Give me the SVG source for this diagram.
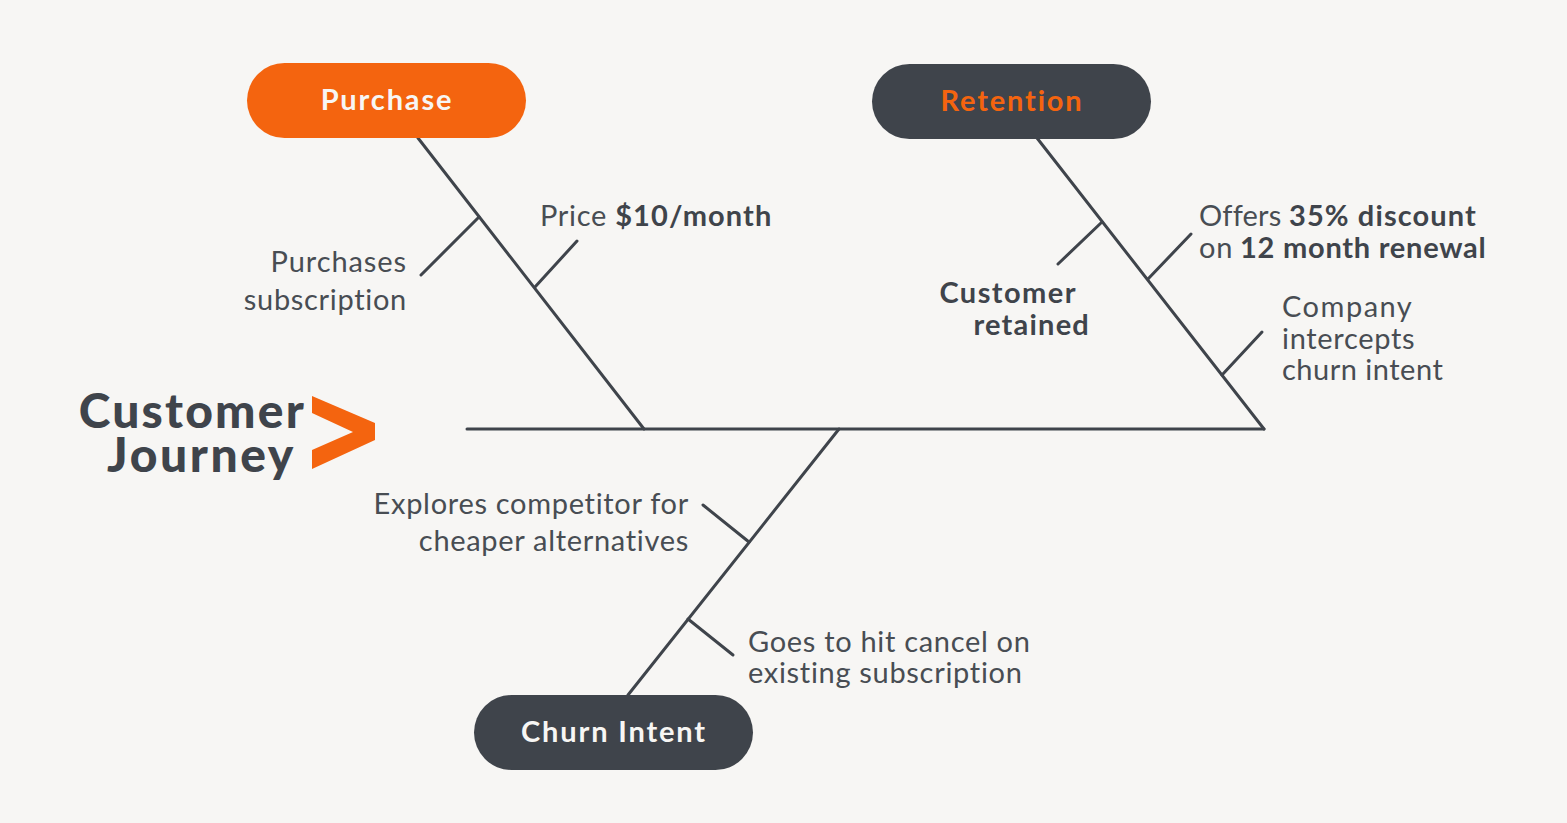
<svg xmlns="http://www.w3.org/2000/svg" width="1567" height="823" viewBox="0 0 1567 823">
<style>
text{font-family:"Lato","Noto Sans",sans-serif;fill:#484d53;font-size:29px;letter-spacing:.69px}
.b{font-weight:700;fill:#3f444b;letter-spacing:1.1px}
.pill{font-size:29px;font-weight:700;text-anchor:middle;letter-spacing:1.85px}
.e{text-anchor:end}
.h{font-size:48px;font-weight:900;letter-spacing:2.2px;fill:#3f444b}
#connectors line{stroke:#3f444b;stroke-width:3;stroke-linecap:round}
</style>
<rect width="1567" height="823" fill="#f7f6f4"/>
<g id="connectors">
<line x1="467" y1="429" x2="1264" y2="429"/>
<line x1="418" y1="138" x2="644" y2="429"/>
<line x1="1037" y1="138" x2="1264" y2="429"/>
<line x1="839" y1="429" x2="628" y2="695"/>
<line x1="479" y1="217" x2="421" y2="275"/>
<line x1="535" y1="287" x2="577" y2="241"/>
<line x1="1102" y1="222" x2="1058" y2="264"/>
<line x1="1148" y1="279" x2="1191" y2="234"/>
<line x1="1222" y1="375" x2="1262" y2="332"/>
<line x1="749" y1="542" x2="703" y2="505"/>
<line x1="688" y1="619" x2="733" y2="655"/>
</g>
<g id="purchase"><rect x="247" y="63" width="279" height="75" rx="37.500" fill="#f4640f"/><text class="pill" x="387" y="110" style="fill:#f7f6f4">Purchase</text></g>
<g id="retention"><rect x="872" y="64" width="279" height="75" rx="37.500" fill="#3f444b"/><text class="pill" x="1012" y="111" style="fill:#f4640f">Retention</text></g>
<g id="churn-intent"><rect x="474" y="695" width="279" height="75" rx="37.500" fill="#3f444b"/><text class="pill" x="614" y="742" style="fill:#f7f6f4">Churn Intent</text></g>
<g id="head">
<text class="h e" x="306" y="428">Customer</text>
<text class="h e" x="296" y="472" style="letter-spacing:2.6px">Journey</text>
<polygon points="312,396 375,423 375,440 312,469 312,450 353,432 312,413" fill="#f4640f"/>
</g>
<g id="labels">
<text class="e" x="407" y="272" style="letter-spacing:.9px">Purchases</text>
<text class="e" x="407" y="310">subscription</text>
<text x="540" y="226">Price <tspan class="b">$10/month</tspan></text>
<text class="b e" x="1077" y="303" style="letter-spacing:1.45px">Customer</text>
<text class="b e" x="1090" y="335" style="letter-spacing:1.2px">retained</text>
<text x="1199" y="226" style="letter-spacing:.2px">Offers <tspan class="b" x="1289">35% discount</tspan></text>
<text x="1199" y="258">on <tspan class="b" x="1240" style="letter-spacing:.75px">12 month renewal</tspan></text>
<text x="1282" y="317" style="letter-spacing:1.5px">Company</text>
<text x="1282" y="349">intercepts</text>
<text x="1282" y="380" style="letter-spacing:.5px">churn intent</text>
<text class="e" x="689" y="514">Explores competitor for</text>
<text class="e" x="689" y="551">cheaper alternatives</text>
<text x="748" y="652">Goes to hit cancel on</text>
<text x="748" y="683">existing subscription</text>
</g>
</svg>
